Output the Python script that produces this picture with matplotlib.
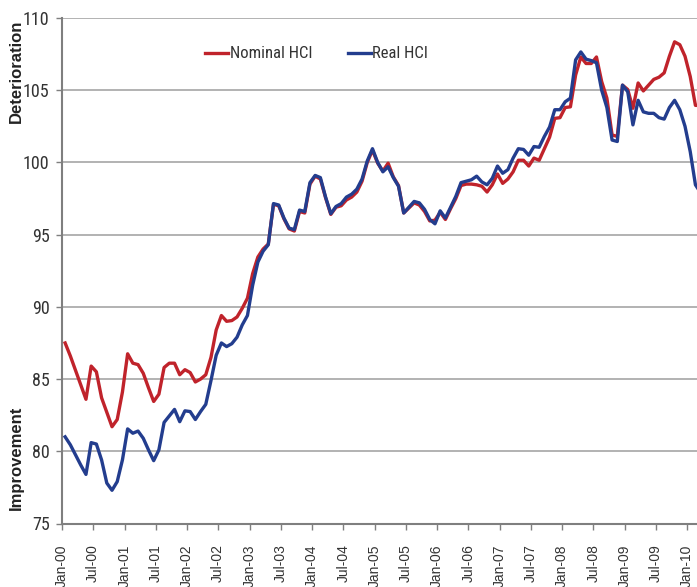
import numpy as np
import matplotlib
matplotlib.use("Agg")
import matplotlib.pyplot as plt
import matplotlib.font_manager as fm

# ---- data (monthly, Jan-2000 .. Mar-2010) ----
nominal_hci = [
    87.5, 86.6, 85.6, 84.6, 83.6, 85.9, 85.5, 83.7, 82.7, 81.7, 82.2, 84.1,
    86.75, 86.1, 86.0, 85.4, 84.4, 83.45, 83.95, 85.8, 86.1, 86.1, 85.3, 85.65,
    85.45, 84.8, 85.0, 85.3, 86.5, 88.4, 89.4, 89.0, 89.05, 89.3, 89.9, 90.6,
    92.3, 93.45, 94.0, 94.35, 97.1, 97.0, 96.1, 95.4, 95.25, 96.6, 96.5, 98.5,
    99.05, 98.85, 97.55, 96.4, 96.9, 97.0, 97.4, 97.6, 97.95, 98.7, 100.0, 100.85,
    99.95, 99.4, 99.95, 99.0, 98.4, 96.5, 96.85, 97.2, 97.05, 96.6, 95.95, 96.0,
    96.55, 96.05, 96.8, 97.5, 98.4, 98.5, 98.5, 98.45, 98.35, 97.95, 98.45, 99.2,
    98.55, 98.85, 99.35, 100.15, 100.15, 99.75, 100.3, 100.15, 100.95, 101.75, 103.05, 103.1,
    103.8, 103.85, 106.05, 107.3, 106.85, 106.85, 107.3, 105.6, 104.45, 101.9, 101.8, 105.35,
    105.05, 103.75, 105.5, 104.95, 105.35, 105.75, 105.9, 106.2, 107.35, 108.35, 108.15, 107.35,
    105.95, 103.95, 103.95,
]
real_hci = [
    81.0, 80.45, 79.75, 79.05, 78.4, 80.6, 80.5, 79.4, 77.8, 77.3, 77.9, 79.4,
    81.55, 81.25, 81.4, 80.9, 80.1, 79.35, 80.1, 82.0, 82.45, 82.9, 82.05, 82.8,
    82.75, 82.2, 82.75, 83.25, 84.9, 86.65, 87.5, 87.25, 87.45, 87.9, 88.75, 89.4,
    91.5, 93.1, 93.85, 94.3, 97.15, 97.05, 96.15, 95.45, 95.35, 96.7, 96.6, 98.6,
    99.1, 98.95, 97.6, 96.45, 96.95, 97.15, 97.6, 97.8, 98.15, 98.85, 100.1, 100.95,
    100.0, 99.35, 99.7, 98.95, 98.35, 96.5, 96.9, 97.3, 97.2, 96.75, 96.05, 95.75,
    96.65, 96.15, 96.9, 97.65, 98.6, 98.7, 98.8, 99.05, 98.65, 98.45, 98.9, 99.75,
    99.25, 99.5, 100.3, 100.95, 100.9, 100.5, 101.1, 101.05, 101.8, 102.45, 103.65, 103.65,
    104.2, 104.45, 107.1, 107.65, 107.15, 107.05, 106.9, 105.0, 103.8, 101.55, 101.45, 105.35,
    104.9, 102.6, 104.3, 103.5, 103.4, 103.4, 103.1, 103.0, 103.8, 104.3, 103.65, 102.5,
    100.75, 98.45, 97.9,
]
tick_labels = ["Jan-00", "Jul-00", "Jan-01", "Jul-01", "Jan-02", "Jul-02", "Jan-03",
               "Jul-03", "Jan-04", "Jul-04", "Jan-05", "Jul-05", "Jan-06", "Jul-06",
               "Jan-07", "Jul-07", "Jan-08", "Jul-08", "Jan-09", "Jul-09", "Jan-10"]
y_ticks = [75, 80, 85, 90, 95, 100, 105, 110]
series_names = ["Nominal HCI", "Real HCI"]

# ---- fonts: look for a narrow / condensed sans face ----
narrow_file = None
for pref in ["Liberation Sans Narrow", "Open Sans Condensed", "Roboto Condensed",
             "DejaVu Sans Condensed", "Noto Sans Condensed"]:
    for f in fm.fontManager.ttflist:
        if f.name == pref and f.weight in (400, "normal", "regular") and f.style == "normal":
            narrow_file = f.fname
            break
    if narrow_file:
        break
if narrow_file is None:
    for f in fm.fontManager.ttflist:
        st = str(f.stretch)
        if (("condensed" in st) or ("Narrow" in f.fname) or ("Condensed" in f.fname)) \
                and f.style == "normal" and f.weight in (400, "normal", "regular") \
                and "Mono" not in f.fname and "Serif" not in f.fname:
            narrow_file = f.fname
            break

plt.rcParams["font.family"] = ["Liberation Sans", "DejaVu Sans"]

if narrow_file:
    ytick_fp = fm.FontProperties(fname=narrow_file, size=13)
    leg_fp = fm.FontProperties(fname=narrow_file, size=12)
else:
    ytick_fp = fm.FontProperties(family="Liberation Sans", size=11.5)
    leg_fp = fm.FontProperties(family="Liberation Sans", size=11)

RED = "#C0232B"
BLUE = "#233D8E"
GRID = "#A6A6A6"
AXIS = "#7F7F7F"
TXT = "#333333"

fig = plt.figure(figsize=(6.97, 5.87), dpi=100)
ax = fig.add_axes([62 / 697, 1 - 523.5 / 587, 635 / 697, 505.5 / 587])

x = np.arange(len(nominal_hci)) + 0.6
ax.plot(x, nominal_hci, color=RED, lw=2.4, solid_joinstyle="round", label=series_names[0], zorder=3)
ax.plot(x, real_hci, color=BLUE, lw=2.4, solid_joinstyle="round", label=series_names[1], zorder=4)

ax.set_ylim(75, 110)
ax.set_xlim(0, 121.9)
ax.set_yticks(y_ticks)
ax.set_yticklabels([str(v) for v in y_ticks], color=TXT)
for t in ax.get_yticklabels():
    t.set_fontproperties(ytick_fp)
ax.set_xticks(np.arange(len(tick_labels)) * 6)
ax.set_xticklabels(tick_labels, rotation=90, fontsize=10, color=TXT, va="top")
ax.tick_params(axis="x", direction="out", length=4, width=1, color=AXIS, pad=11)
ax.tick_params(axis="y", direction="out", length=4, width=1, color=AXIS, pad=5)

ax.grid(axis="y", color=GRID, lw=1.2)
ax.set_axisbelow(True)
for s in ["top", "right"]:
    ax.spines[s].set_visible(False)
for s in ["left", "bottom"]:
    ax.spines[s].set_color(AXIS)
    ax.spines[s].set_linewidth(1.5)

fig.text(16 / 697, 1 - 20 / 587, "Deterioration", rotation=90, ha="center", va="top",
         fontsize=12, fontweight="bold", color="#222222")
fig.text(16 / 697, 1 - 510 / 587, "Improvement", rotation=90, ha="center", va="bottom",
         fontsize=12, fontweight="bold", color="#222222")

leg = ax.legend(loc="center left", bbox_to_anchor=((205 - 62) / 635, (523.5 - 54) / 505.5),
                ncol=2, frameon=False, handlelength=1.4, handletextpad=0.1,
                columnspacing=2.1, borderpad=0, borderaxespad=0, prop=leg_fp)
for t in leg.get_texts():
    t.set_color(TXT)

fig.savefig("out.png", dpi=100)
